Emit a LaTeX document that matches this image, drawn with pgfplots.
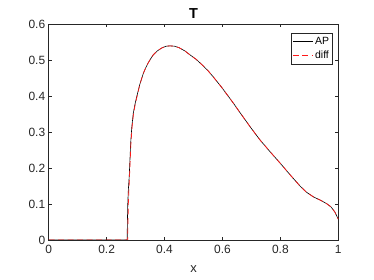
\documentclass[border=0pt]{standalone}
\usepackage{pgfplots}
\pgfplotsset{compat=1.18}
\usepackage{fontspec}
\setmainfont{Liberation Sans}
\definecolor{mgray}{rgb}{0.15,0.15,0.15}
\begin{document}
\begin{tikzpicture}
\path[use as bounding box] (0,0) rectangle (374bp,280bp);
\begin{axis}[
  at={(48.7bp,40bp)}, anchor=south west,
  scale only axis, width=289.6bp, height=215.7bp,
  xmin=0, xmax=1, ymin=0, ymax=0.6,
  xtick={0,0.2,0.4,0.6,0.8,1}, ytick={0,0.1,0.2,0.3,0.4,0.5,0.6},
  tick align=inside, xtick pos=both, ytick pos=both,
  major tick length=3bp,
  axis line style={mgray, line width=0.5pt},
  every tick/.style={mgray, line width=0.5pt},
  xticklabel style={font=\fontsize{12}{14}\selectfont, text=mgray, yshift=-2bp},
  yticklabel style={font=\fontsize{12}{14}\selectfont, text=mgray},
  /pgf/number format/assume math mode=true,
  /pgf/number format/fixed,
  xlabel={x}, xlabel style={font=\fontsize{13}{15}\selectfont, text=mgray, yshift=-5bp},
  title={\textbf{T}}, title style={font=\fontsize{14.5}{16}\selectfont, yshift=-4bp},
  legend style={at={(0.981,0.958)}, anchor=north east, font=\fontsize{10.5}{12}\selectfont, draw=mgray, line width=0.5pt, inner sep=1.5pt, row sep=1.5pt},
  legend image code/.code={\draw[#1] (0bp,0bp) -- (20bp,0bp);},
  legend cell align=left,
]
\addplot[black, line width=0.6pt] coordinates {
(0,0) (0.271,0) (0.2715,0.04) (0.273,0.10) (0.275,0.14) (0.278,0.176) (0.283,0.269) (0.287,0.315) (0.292,0.352) (0.298,0.378) (0.304,0.399) (0.315,0.434) (0.327,0.464) (0.335,0.479) (0.343,0.492) (0.352,0.504) (0.361,0.515) (0.375,0.526) (0.39,0.534) (0.405,0.539) (0.419,0.540) (0.435,0.539) (0.45,0.535) (0.47,0.526) (0.488,0.515) (0.51,0.502) (0.53,0.487) (0.55,0.471) (0.568,0.454) (0.595,0.427) (0.62,0.400) (0.64,0.378) (0.66,0.355) (0.70,0.310) (0.73,0.278) (0.765,0.245) (0.80,0.213) (0.835,0.180) (0.868,0.150) (0.89,0.133) (0.914,0.120) (0.94,0.110) (0.96,0.101) (0.975,0.092) (0.988,0.078) (1.0,0.058)
};
\addlegendentry{AP}
\addplot[red!90!white, line width=0.7pt, dash pattern=on 6bp off 3.5bp] coordinates {
(0,0) (0.273,0) (0.2735,0.04) (0.275,0.10) (0.277,0.14) (0.279,0.176) (0.284,0.269) (0.288,0.315) (0.293,0.352) (0.299,0.378) (0.305,0.399) (0.315,0.434) (0.327,0.464) (0.335,0.479) (0.343,0.492) (0.352,0.504) (0.361,0.515) (0.375,0.526) (0.39,0.534) (0.405,0.539) (0.419,0.540) (0.435,0.539) (0.45,0.535) (0.47,0.526) (0.488,0.515) (0.51,0.502) (0.53,0.487) (0.55,0.471) (0.568,0.454) (0.595,0.427) (0.62,0.400) (0.64,0.378) (0.66,0.355) (0.70,0.310) (0.73,0.278) (0.765,0.245) (0.80,0.213) (0.835,0.180) (0.868,0.150) (0.89,0.133) (0.914,0.120) (0.94,0.110) (0.96,0.101) (0.975,0.092) (0.988,0.078) (1.0,0.058)
};
\addlegendentry{diff}
\end{axis}
\end{tikzpicture}
\end{document}
